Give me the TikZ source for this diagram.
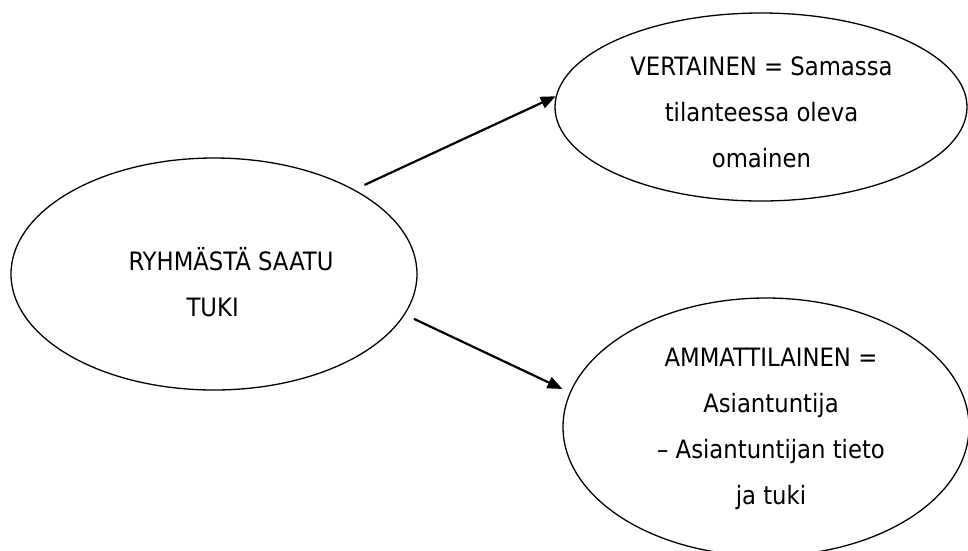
\documentclass[tikz,border=0pt]{standalone}
\usepackage{fontspec}
\setmainfont{DejaVu Sans Condensed}
\usetikzlibrary{shapes.geometric, arrows.meta}

\begin{document}
\begin{tikzpicture}[x=1pt, y=-1pt,
    kupla/.style={draw, ellipse, line width=1.3pt, inner sep=0pt},
    teksti/.style={align=center, font=\fontsize{25.3}{46}\selectfont},
    nuoli/.style={line width=2.2pt, -{Triangle[length=15pt, width=12pt]}}]
        \useasboundingbox (0,0) rectangle (968,550);
        \node[kupla, minimum width=406, minimum height=232] (ryhma) at (214,274) {};
        \node[kupla, minimum width=412, minimum height=188] (vertainen) at (761,107) {};
        \node[kupla, minimum width=406, minimum height=258] (ammatti) at (766,427) {};
        \node[teksti, align=left] (ryhmateksti) at (231,282) {RYHMÄSTÄ SAATU\\\hspace*{58pt}TUKI};
        \node[teksti] (vertaisteksti) at (761.5,112) {VERTAINEN = Samassa\\tilanteessa oleva\\omainen};
        \node[teksti] (ammattiteksti) at (771,429) {AMMATTILAINEN =\\Asiantuntija\\– Asiantuntijan tieto\\ja tuki};
        \draw[nuoli, shorten <=11pt] (ryhma.31) -- (vertainen.177);
        \draw[nuoli, shorten <=10pt, shorten >=8pt] (ryhma.-12) -- (ammatti.170);
    \end{tikzpicture}
\end{document}
